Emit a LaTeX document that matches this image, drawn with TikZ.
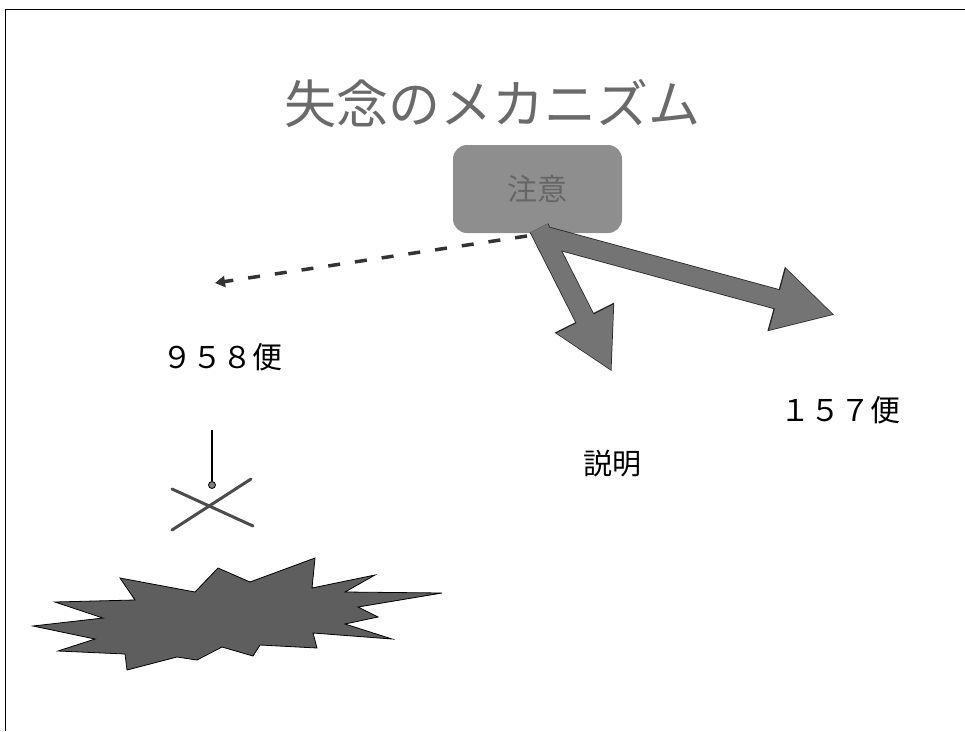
\documentclass[tikz,border=0pt]{standalone}
\usepackage{fontspec}
\setmainfont{Noto Sans CJK JP}
\newfontfamily\boldcjk{Noto Sans CJK JP Medium}
\usetikzlibrary{arrows.meta}
\definecolor{boxgray}{HTML}{8E8E8E}
\definecolor{boxtext}{HTML}{666666}
\definecolor{arrgray}{HTML}{747474}
\definecolor{burstgray}{HTML}{5E5E5E}
\definecolor{titlegray}{HTML}{6A6A6A}
\tikzset{
  frame/.style={draw=black, line width=1pt},
  titletext/.style={font=\fontsize{52}{52}\selectfont, text=titlegray, inner sep=0pt},
  labeltext/.style={font=\fontsize{30}{30}\selectfont, text=black, inner sep=0pt},
  attnbox/.style={fill=boxgray, rounded corners=14pt, minimum width=169pt, minimum height=88pt,
    font=\fontsize{30}{30}\selectfont, text=boxtext, inner sep=0pt},
  arrowedge/.style={draw=black!85, line width=20.6pt,
    -{Triangle[length=61pt, width=62pt]}},
  bigarrow/.style={draw=arrgray, line width=19pt, shorten >=1.6pt,
    -{Triangle[length=58pt, width=59pt]}},
  dasharrow/.style={draw=black!80, line width=3.5pt, dash pattern=on 12pt off 15pt,
    -{Triangle[length=10pt, width=11pt]}},
  burst/.style={fill=burstgray, draw=black, line width=0.8pt, line join=miter},
  bar/.style={draw=black!70, line width=3pt, line cap=round}
}
\begin{document}
\begin{tikzpicture}[x=1pt, y=-1pt]
  \useasboundingbox (0,0) rectangle (965,731);
  % page frame (top and left edges)
  \draw[frame] (965,9) -- (5,9) -- (5,731);

  % title
  \node[titletext] (title) at (492,104) {失念のメカニズム};

  % attention box
  \node[attnbox] (attn) at (537.5,189) {注意};

  % branch targets
  \coordinate (lefttip) at (215,283);
  \coordinate (midtip) at (612,372);
  \coordinate (righttip) at (835,315);
  \coordinate (srcA) at (539,228);
  \coordinate (srcB) at (548,237);
  \coordinate (srcC) at (527,236);

  \draw[dasharrow] (srcC) -- (lefttip);
  \draw[arrowedge] (srcB) -- (righttip);
  \draw[arrowedge] (srcA) -- (midtip);
  \draw[bigarrow] (srcB) -- (righttip);
  \draw[bigarrow] (srcA) -- (midtip);

  % labels
  \node[labeltext] (f958) at (222,357) {９５８便};
  \node[labeltext] (f157) at (840,410) {１５７便};
  \node[labeltext, font=\fontsize{29}{29}\selectfont] (expl) at (612,464) {説明};

  % pendulum and cross
  \coordinate (hang) at (212,430);
  \node[circle, fill=gray, draw=black, line width=0.8pt, inner sep=0pt, minimum size=7pt] (bob) at (212,485) {};
  \draw[line width=1.2pt] (hang) -- (bob.north);
  \coordinate (xa1) at (172,489);
  \coordinate (xa2) at (253,526);
  \coordinate (xb1) at (172,530);
  \coordinate (xb2) at (251,479);
  \draw[bar] (xa1) -- (xa2);
  \draw[bar] (xb1) -- (xb2);

  % crash burst
  \draw[burst] (120,578) -- (195,592) -- (218,568) -- (250,582) -- (315,558) -- (312,588)
    -- (375,575) -- (345,592) -- (442,593) -- (358,607) -- (378,617) -- (345,624)
    -- (392,639) -- (313,633) -- (317,648) -- (260,645) -- (253,656) -- (222,647)
    -- (197,660) -- (177,657) -- (127,670) -- (125,654) -- (58,651) -- (95,639)
    -- (33,626) -- (103,618) -- (55,602) -- (135,600) -- cycle;
\end{tikzpicture}
\end{document}
